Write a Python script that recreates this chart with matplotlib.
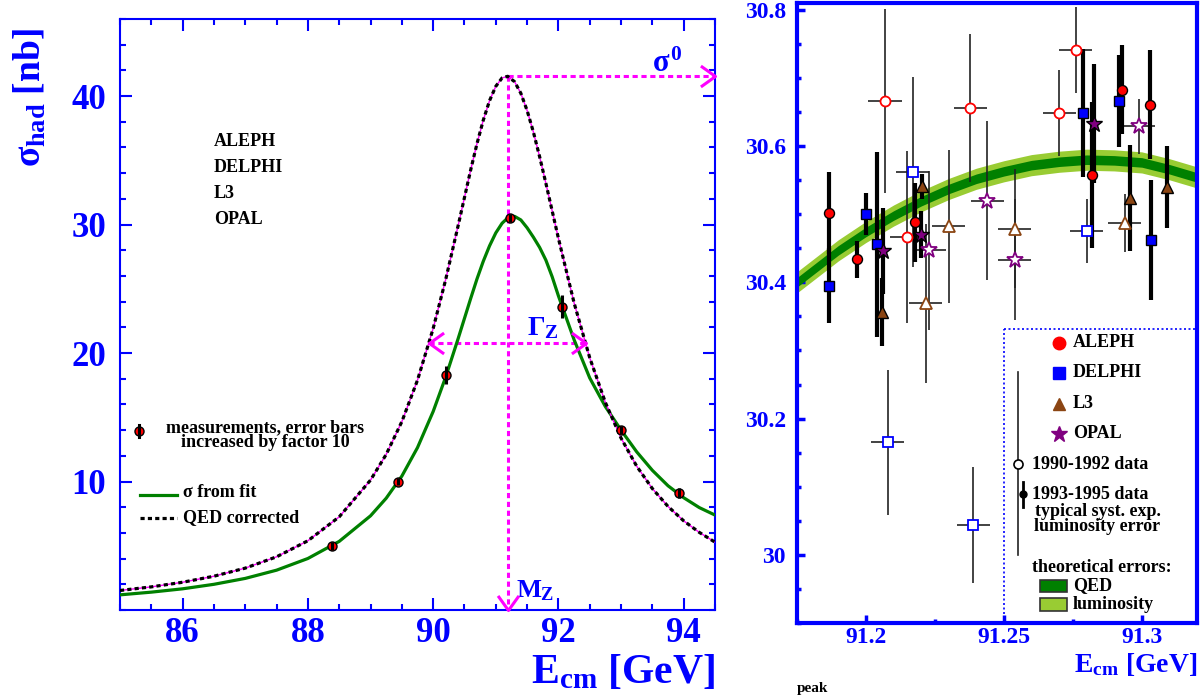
import matplotlib
matplotlib.use('Agg')
import matplotlib.pyplot as plt
import numpy as np
from matplotlib.path import Path
from matplotlib.patches import Rectangle
from matplotlib.ticker import MultipleLocator, FixedLocator, FuncFormatter

plt.rcParams['font.family'] = ['Liberation Serif', 'DejaVu Serif']
plt.rcParams['font.weight'] = 'bold'
plt.rcParams['mathtext.fontset'] = 'custom'
plt.rcParams['mathtext.rm'] = 'Liberation Serif:bold'
plt.rcParams['mathtext.it'] = 'Liberation Serif:bold'
plt.rcParams['mathtext.bf'] = 'Liberation Serif:bold'

# ---------------- left panel data ----------------
E_grid = [85.0, 85.5, 86.0, 86.5, 87.0, 87.5, 88.0, 88.5, 89.0, 89.25, 89.5, 89.75,
          90.0, 90.2, 90.4, 90.6, 90.7, 90.8, 90.9, 91.0, 91.1, 91.19, 91.3, 91.4,
          91.5, 91.6, 91.7, 91.8, 91.9, 92.0, 92.25, 92.5, 92.75, 93.0, 93.25, 93.5,
          93.75, 94.0, 94.25, 94.5]
sigma_qed = [1.52, 1.80, 2.16, 2.63, 3.26, 4.14, 5.39, 7.25, 10.11, 12.11, 14.66, 17.89,
             21.91, 25.72, 29.94, 34.27, 36.30, 38.12, 39.64, 40.76, 41.41, 41.54, 41.12, 40.22,
             38.88, 37.21, 35.28, 33.21, 31.07, 28.93, 23.91, 19.63, 16.15, 13.38, 11.19, 9.45,
             8.06, 6.94, 6.04, 5.28]
sigma_fit = [1.18, 1.39, 1.65, 2.00, 2.46, 3.10, 4.01, 5.34, 7.33, 8.70, 10.42, 12.64,
             15.45, 18.13, 21.14, 24.26, 25.77, 27.14, 28.34, 29.35, 30.10, 30.52, 30.64, 30.36,
             29.75, 29.02, 28.22, 27.23, 25.94, 24.45, 21.04, 18.06, 15.83, 14.00, 12.31, 10.87,
             9.67, 8.74, 7.97, 7.39]
meas_E = [88.39, 89.44, 90.21, 91.23, 92.06, 93.00, 93.92]
meas_sigma = [5.0, 10.0, 18.3, 30.5, 23.6, 14.0, 9.1]
meas_err10 = [0.3, 0.3, 0.7, 0.3, 0.9, 0.3, 0.4]
MZ = 91.19
sigma0 = 41.54
GZ_lo, GZ_hi = 89.93, 92.44
experiments = ['ALEPH', 'DELPHI', 'L3', 'OPAL']

# ---------------- right panel data ----------------
band_E = [91.175, 91.19, 91.20, 91.21, 91.22, 91.23, 91.24, 91.25, 91.26, 91.27,
          91.28, 91.29, 91.30, 91.31, 91.32]
band_sigma = [30.400, 30.447, 30.474, 30.498, 30.519, 30.537, 30.552, 30.563, 30.572,
              30.577, 30.580, 30.579, 30.576, 30.566, 30.554]
qed_halfwidth = 0.007
lumi_halfwidth = 0.0155
E_err_old = 0.006

aleph_new_E = [91.1867, 91.1969, 91.2178, 91.2819, 91.2929, 91.3029]
aleph_new_s = [30.502, 30.434, 30.488, 30.558, 30.683, 30.661]
aleph_new_e = [0.060, 0.027, 0.058, 0.107, 0.065, 0.080]
aleph_old_E = [91.2069, 91.2147, 91.2378, 91.2700, 91.2760]
aleph_old_s = [30.666, 30.467, 30.656, 30.649, 30.741]
aleph_old_e = [0.135, 0.126, 0.108, 0.063, 0.063]

delphi_new_E = [91.1867, 91.2000, 91.2039, 91.2785, 91.2918, 91.3035]
delphi_new_s = [30.395, 30.500, 30.456, 30.649, 30.666, 30.462]
delphi_new_e = [0.055, 0.031, 0.136, 0.094, 0.067, 0.088]
delphi_old_E = [91.2079, 91.2169, 91.2389, 91.2800]
delphi_old_s = [30.165, 30.562, 30.044, 30.476]
delphi_old_e = [0.106, 0.140, 0.085, 0.047]

l3_new_E = [91.2057, 91.2202, 91.2957, 91.3093]
l3_new_s = [30.356, 30.541, 30.524, 30.540]
l3_new_e = [0.050, 0.018, 0.078, 0.060]
l3_old_E = [91.2217, 91.2300, 91.2540, 91.2938]
l3_old_s = [30.369, 30.482, 30.479, 30.487]
l3_old_e = [0.117, 0.112, 0.088, 0.042]

opal_new_E = [91.2063, 91.2199, 91.2826]
opal_new_s = [30.446, 30.470, 30.633]
opal_new_e = [0.0625, 0.034, 0.087]
opal_old_E = [91.2229, 91.2440, 91.2540, 91.2989]
opal_old_s = [30.447, 30.520, 30.433, 30.629]
opal_old_e = [0.117, 0.117, 0.089, 0.040]

BLUE = '#0000ff'
MAG = '#ff00ff'
GREEN = '#008000'
LGREEN = '#99cc33'
RED = '#ff0000'
BROWN = '#8b4513'
PURPLE = '#800080'

fig = plt.figure(figsize=(12.02, 6.99), dpi=100)
axL = fig.add_axes([0.09983, 0.12732, 0.49501, 0.84549])
axR = fig.add_axes([0.66306, 0.10873, 0.33278, 0.88698])

# ======================= LEFT PANEL =======================
axL.set_xlim(85, 94.5)
axL.set_ylim(0, 46)
xmax = axL.get_xlim()[1]
ymin = axL.get_ylim()[0]

axL.plot(E_grid, sigma_fit, color=GREEN, lw=2.3, zorder=3)
axL.plot(E_grid, sigma_qed, color=MAG, lw=1.0, zorder=4)
axL.plot(E_grid, sigma_qed, color='black', lw=2.3, ls=(0, (1.3, 1.0)), zorder=5)

dot = (0, (1.7, 1.2))
axL.plot([MZ, MZ], [sigma0, ymin], color=MAG, lw=2.2, ls=dot, zorder=2)
axL.plot([MZ, xmax], [sigma0, sigma0], color=MAG, lw=2.2, ls=dot, zorder=2)
axL.plot([GZ_lo, GZ_hi], [sigma0 / 2, sigma0 / 2], color=MAG, lw=2.2, ls=dot, zorder=2)

chev_r = Path([(-1.4, 1), (0, 0), (-1.4, -1)], [Path.MOVETO, Path.LINETO, Path.LINETO])
chev_l = Path([(1.4, 1), (0, 0), (1.4, -1)], [Path.MOVETO, Path.LINETO, Path.LINETO])
chev_d = Path([(-1, 1.4), (0, 0), (1, 1.4)], [Path.MOVETO, Path.LINETO, Path.LINETO])
ck = dict(color=MAG, ms=21, mfc='none', mec=MAG, mew=2.2, clip_on=False, zorder=6)
axL.plot([xmax], [sigma0], marker=chev_r, ls='none', **ck)
axL.plot([GZ_hi], [sigma0 / 2], marker=chev_r, ls='none', **ck)
axL.plot([GZ_lo], [sigma0 / 2], marker=chev_l, ls='none', **ck)
axL.plot([MZ], [ymin], marker=chev_d, ls='none', **ck)

axL.plot(meas_E, meas_sigma, 'o', ms=6.5, mfc=RED, mec='black', mew=1.0, zorder=7)
axL.errorbar(meas_E, meas_sigma, yerr=meas_err10, fmt='none', ecolor='black',
             elinewidth=2.2, capsize=0, zorder=8)

axL.text(93.49, 41.9, r'$\sigma^{0}$', color=BLUE, fontsize=22, fontweight='normal',
         ha='left', va='baseline')
axL.text(91.50, 21.4, r'$\Gamma_{Z}$', color=BLUE, fontsize=20, ha='left', va='baseline')
axL.text(91.33, 1.0, r'$M_{Z}$', color=BLUE, fontsize=19, ha='left', va='baseline')

for i, name in enumerate(experiments):
    axL.text(0.158, 0.792 - i * 0.0435, name, transform=axL.transAxes, fontsize=13,
             ha='left', va='center', color='black')

# legend in left panel
axL.plot([0.0319], [0.303], 'o', ms=6.5, mfc=RED, mec='black', mew=1.0,
         transform=axL.transAxes, zorder=7)
axL.plot([0.0319, 0.0319], [0.293, 0.313], color='black', lw=2.2,
         transform=axL.transAxes, zorder=8)
axL.text(0.2437, 0.308, 'measurements, error bars', transform=axL.transAxes,
         fontsize=13, ha='center', va='center')
axL.text(0.2437, 0.2826, 'increased by factor 10', transform=axL.transAxes,
         fontsize=13, ha='center', va='center')
axL.plot([0.0336, 0.0958], [0.1946, 0.1946], color=GREEN, lw=2.3, transform=axL.transAxes)
axL.text(0.106, 0.198, 'σ from fit', transform=axL.transAxes, fontsize=13,
         ha='left', va='center')
axL.plot([0.0336, 0.0958], [0.1557, 0.1557], color='black', lw=2.3, ls=(0, (1.3, 1.0)),
         transform=axL.transAxes)
axL.text(0.106, 0.157, 'QED corrected', transform=axL.transAxes, fontsize=13,
         ha='left', va='center')

axL.xaxis.set_major_locator(FixedLocator([86, 88, 90, 92, 94]))
axL.xaxis.set_minor_locator(MultipleLocator(0.5))
axL.yaxis.set_major_locator(FixedLocator([10, 20, 30, 40]))
axL.yaxis.set_minor_locator(MultipleLocator(2))
axL.xaxis.set_major_formatter(FuncFormatter(lambda v, p: f'{v:g}'))
axL.yaxis.set_major_formatter(FuncFormatter(lambda v, p: f'{v:g}'))
axL.tick_params(which='both', direction='in', top=True, right=True, color=BLUE,
                labelcolor=BLUE, width=1.5, labelsize=25)
axL.tick_params(which='major', length=8.6)
axL.tick_params(which='minor', length=4.3)
axL.tick_params(axis='x', pad=5)
axL.tick_params(axis='y', pad=10)
for s in axL.spines.values():
    s.set_color(BLUE)
    s.set_linewidth(1.5)

fig.text(0.025, 0.86, r'$\sigma_{\rm had}$ [nb]', rotation=90, color=BLUE, fontsize=27,
         ha='center', va='center')
fig.text(0.5948, 0.0229, r'E$_{\rm cm}$ [GeV]', color=BLUE, fontsize=30,
         ha='right', va='baseline')

# ======================= RIGHT PANEL =======================
axR.set_xlim(91.175, 91.32)
axR.set_ylim(29.9, 30.81)
bE = np.array(band_E)
bS = np.array(band_sigma)
axR.fill_between(bE, bS - lumi_halfwidth, bS + lumi_halfwidth, color=LGREEN, lw=0, zorder=1)
axR.fill_between(bE, bS - qed_halfwidth, bS + qed_halfwidth, color=GREEN, lw=0, zorder=2)

old_sets = [
    (aleph_old_E, aleph_old_s, aleph_old_e, 'o', RED, 7.2),
    (delphi_old_E, delphi_old_s, delphi_old_e, 's', BLUE, 6.9),
    (l3_old_E, l3_old_s, l3_old_e, '^', BROWN, 8.0),
    (opal_old_E, opal_old_s, opal_old_e, '*', PURPLE, 12),
]
new_sets = [
    (aleph_new_E, aleph_new_s, aleph_new_e, 'o', RED, 7.2),
    (delphi_new_E, delphi_new_s, delphi_new_e, 's', BLUE, 6.9),
    (l3_new_E, l3_new_s, l3_new_e, '^', BROWN, 8.0),
    (opal_new_E, opal_new_s, opal_new_e, '*', PURPLE, 12),
]
for E, s, e, m, c, ms in old_sets:
    axR.errorbar(E, s, yerr=e, xerr=E_err_old, fmt='none', ecolor='#222222',
                 elinewidth=1.2, capsize=0, zorder=3)
for E, s, e, m, c, ms in new_sets:
    axR.errorbar(E, s, yerr=e, fmt='none', ecolor='black', elinewidth=3.0,
                 capsize=0, zorder=4)
for E, s, e, m, c, ms in old_sets:
    axR.plot(E, s, m, ms=ms, mfc='white', mec=c, mew=1.3, ls='none', zorder=5)
for E, s, e, m, c, ms in new_sets:
    axR.plot(E, s, m, ms=ms, mfc=c, mec='black', mew=1.0, ls='none', zorder=6)

# legend box (dotted)
xr = axR.get_xlim()[1]
yb = axR.get_ylim()[0]
box_x, box_y = 91.25, 30.332
axR.plot([box_x, box_x], [yb, box_y], color=BLUE, lw=1.2, ls=(0, (1.2, 1.5)), zorder=2)
axR.plot([box_x, xr], [box_y, box_y], color=BLUE, lw=1.2, ls=(0, (1.2, 1.5)), zorder=2)

T = axR.transAxes
leg_rows = [('o', RED, 9.0), ('s', BLUE, 8.5), ('^', BROWN, 9.0), ('*', PURPLE, 12.0)]
leg_y = [0.452, 0.404, 0.354, 0.305]
for (m, c, ms), name, yy in zip(leg_rows, experiments, leg_y):
    axR.plot([0.655], [yy], m, ms=ms, mfc=c, mec=c, transform=T, zorder=7)
    axR.text(0.69, yy, name, transform=T, fontsize=13, ha='left', va='center')

axR.plot([0.5525, 0.5525], [0.110, 0.405], color='#222222', lw=1.2, transform=T, zorder=6)
axR.plot([0.5525], [0.257], 'o', ms=6.5, mfc='white', mec='black', mew=1.2,
         transform=T, zorder=7)
axR.plot([0.565, 0.565], [0.187, 0.227], color='black', lw=2.0, transform=T, zorder=6)
axR.plot([0.565], [0.208], 'o', ms=5, mfc='black', mec='black', transform=T, zorder=7)
axR.text(0.5875, 0.256, '1990-1992 data', transform=T, fontsize=13, ha='left', va='center')
axR.text(0.5875, 0.207, '1993-1995 data', transform=T, fontsize=13, ha='left', va='center')
axR.text(0.595, 0.180, 'typical syst. exp.', transform=T, fontsize=13, ha='left', va='center')
axR.text(0.5925, 0.155, 'luminosity error', transform=T, fontsize=13, ha='left', va='center')
axR.text(0.5875, 0.089, 'theoretical errors:', transform=T, fontsize=13, ha='left',
         va='center')
axR.add_patch(Rectangle((0.6075, 0.050), 0.0675, 0.020, transform=T, facecolor=GREEN,
                        edgecolor='#333333', lw=1.2, zorder=7))
axR.add_patch(Rectangle((0.6075, 0.020), 0.0675, 0.020, transform=T, facecolor=LGREEN,
                        edgecolor='#333333', lw=1.2, zorder=7))
axR.text(0.69, 0.060, 'QED', transform=T, fontsize=13, ha='left', va='center')
axR.text(0.69, 0.030, 'luminosity', transform=T, fontsize=13, ha='left', va='center')

axR.xaxis.set_major_locator(FixedLocator([91.2, 91.25, 91.3]))
axR.xaxis.set_minor_locator(FixedLocator([91.175, 91.225, 91.275]))
axR.yaxis.set_major_locator(FixedLocator([30.0, 30.2, 30.4, 30.6, 30.8]))
axR.yaxis.set_minor_locator(MultipleLocator(0.05))
axR.xaxis.set_major_formatter(FuncFormatter(lambda v, p: f'{v:g}'))
axR.yaxis.set_major_formatter(FuncFormatter(lambda v, p: f'{v:g}'))
axR.tick_params(which='both', direction='in', top=False, right=False, color=BLUE,
                labelcolor=BLUE, width=2.5, labelsize=17)
axR.tick_params(which='major', length=6)
axR.tick_params(which='minor', length=3)
axR.tick_params(axis='x', pad=3)
axR.tick_params(axis='y', pad=8)
for s in axR.spines.values():
    s.set_color(BLUE)
    s.set_linewidth(3)

fig.text(0.9958, 0.0386, r'E$_{\rm cm}$ [GeV]', color=BLUE, fontsize=20,
         ha='right', va='baseline')
fig.text(0.663, 0.0157, 'peak', fontsize=11, ha='left', va='center')

fig.savefig('out.png', dpi=100)
